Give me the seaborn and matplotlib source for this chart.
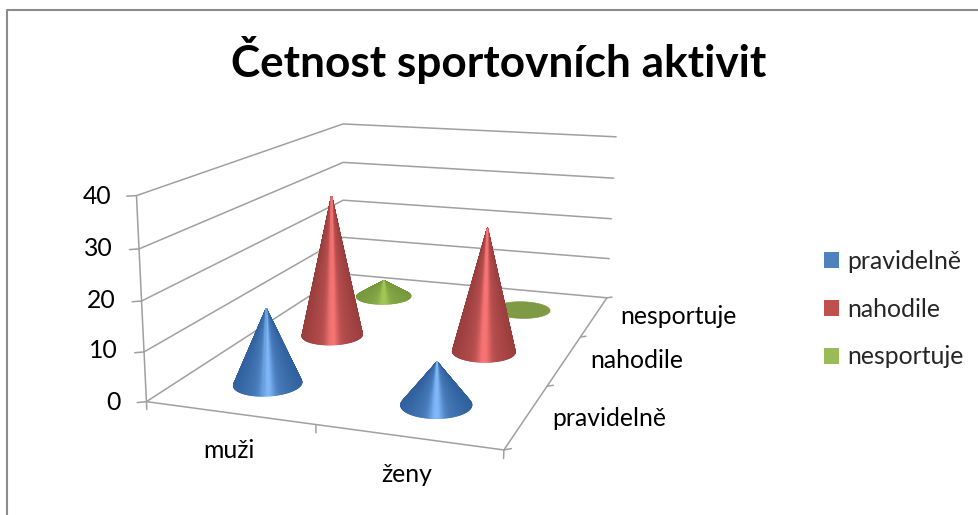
import numpy as np
import matplotlib
matplotlib.use('Agg')
import matplotlib.pyplot as plt
import seaborn as sns
from matplotlib.lines import Line2D
from matplotlib.patches import Patch
from mpl_toolkits.mplot3d.art3d import Poly3DCollection

title = 'Četnost sportovních aktivit'
genders = ['muži', 'ženy']
activity = ['pravidelně', 'nahodile', 'nesportuje']
muzi = [15.5, 31.5, 4]
zeny = [8.5, 27, 0]
z_ticks = [0, 10, 20, 30, 40]

W, H = 979, 515

# where the chart box corners sit in the picture: (x, y, z) -> (px, py)
anchors = [
    ((0, 0, 0), (146.7, 401.7)), ((2, 0, 0), (504, 450)),
    ((2, 3, 0), (606.7, 297.7)), ((0, 3, 0), (343.3, 274.3)),
    ((0, 0, 10), (143.7, 351.7)), ((0, 0, 20), (141.7, 300.7)),
    ((0, 0, 30), (139.3, 249)), ((0, 0, 40), (136, 196)),
    ((0, 3, 10), (343.3, 237.3)), ((0, 3, 20), (343.3, 200)),
    ((0, 3, 30), (343.3, 162.3)), ((0, 3, 40), (343.3, 124)),
    ((2, 3, 10), (609.3, 258.7)), ((2, 3, 20), (611.7, 218.7)),
    ((2, 3, 30), (614, 178.3)), ((2, 3, 40), (615.7, 136.7)),
]

# fit the camera, same thing excel's 3d view does
rows, rhs = [], []
for (x, y, z), (u, v) in anchors:
    rows.append([x, y, z, 1, 0, 0, 0, 0, -u * x, -u * y, -u * z])
    rhs.append(u)
    rows.append([0, 0, 0, 0, x, y, z, 1, -v * x, -v * y, -v * z])
    rhs.append(v)
p = np.linalg.lstsq(np.array(rows, float), np.array(rhs, float), rcond=None)[0]
P = np.append(p, 1).reshape(3, 4)


def to_px(x, y, z=0):
    q = P @ np.array([x, y, z, 1.0])
    return q[0] / q[2], q[1] / q[2]


sns.set_theme(style='white')
plt.rcParams['font.family'] = ['Lato', 'DejaVu Sans']
colors = sns.color_palette(['#4F81BD', '#C0504D', '#9BBB59'])
darks = [(0.19, 0.38, 0.62), (0.60, 0.24, 0.24), (0.47, 0.60, 0.24)]
lights = [(0.50, 0.72, 0.98), (0.98, 0.46, 0.46), (0.64, 0.78, 0.34)]

fig = plt.figure(figsize=(W / 100, H / 100), dpi=100, facecolor='white')
ax = fig.add_axes([0, -0.45, 1, 1.9], projection='3d', computed_zorder=False)
ax.set_axis_off()
ax.patch.set_visible(False)


def camera_proj():
    to_data = ax.transData.inverted().get_matrix()
    flip = np.array([[1, 0, 0], [0, -1, H], [0, 0, 1.0]])
    m = to_data @ flip @ P
    return np.array([m[0], m[1], [0, 0, 0, -1.0], m[2]])


ax.get_proj = camera_proj

grey = '#A0A0A0'


def line(xs, ys, zs):
    ax.plot(xs, ys, zs, color=grey, lw=1.1, zorder=1)


# walls and floor
for z in z_ticks:
    line([0, 0, 2], [0, 3, 3], [z, z, z])
    line([0, -0.04], [0, -0.03], [z, z])
line([0, 0], [0, 0], [0, 40])
line([0, 2, 2], [0, 0, 3], [0, 0, 0])
for x in range(3):
    line([x, x], [0, 0], [0, -1.6])
for y in range(4):
    line([2, 2.03], [y, y + 0.03], [0, 0])


def cone(cx, cy, value, i, order):
    rx, ry = 0.19, 0.21
    th = np.linspace(0, 2 * np.pi, 181)
    xr = cx + rx * np.cos(th)
    yr = cy + ry * np.sin(th)
    if value == 0:
        verts = [list(zip(xr, yr, np.zeros_like(xr)))]
        ax.add_collection3d(Poly3DCollection(verts, facecolor='#7F9A45', edgecolor='#7F9A45',
                                             linewidth=0.5, zorder=order))
        return
    # shade by horizontal place on screen, bright stripe in the middle
    px = np.array([to_px(a, b)[0] for a, b in zip(xr, yr)])
    mid = (px.max() + px.min()) / 2
    v = (px - mid) / ((px.max() - px.min()) / 2)
    v = (v[:-1] + v[1:]) / 2
    b = 0.42 * (1 - np.abs(v)) + 0.58 * np.exp(-(v / 0.2) ** 2)
    b = np.clip(b, 0, 1)[None, :, None]
    face = np.array(darks[i]) + b * (np.array(lights[i]) - np.array(darks[i]))
    face = np.concatenate([face, np.ones((1, len(th) - 1, 1))], axis=2)
    X = np.vstack([xr, np.full_like(xr, cx)])
    Y = np.vstack([yr, np.full_like(yr, cy)])
    Z = np.vstack([np.zeros_like(xr), np.full_like(xr, value)])
    ax.plot_surface(X, Y, Z, rstride=1, cstride=1, facecolors=face, shade=False,
                    linewidth=0.9, zorder=order)


# back row first so the near cones cover it
order = 2
for i in [2, 1, 0]:
    for j, vals in enumerate([muzi, zeny]):
        cone(j + 0.5, i + 0.5, vals[i], i, order)
        order += 1


def put(px, py, s, **kw):
    fig.text(px / W, 1 - py / H, s, va='center', color='black', **kw)


fs = 17.8
put(499, 60, title, ha='center', fontsize=31.8, fontweight='bold')
for z, rx_, py in zip(z_ticks, [120.7, 117.5, 116, 113, 111], [402, 350, 300, 249, 197]):
    put(rx_, py, str(z), ha='right', fontsize=fs)
put(229, 451, genders[0], ha='center', fontsize=fs)
put(407, 474, genders[1], ha='center', fontsize=fs)
put(552, 418, activity[0], ha='left', fontsize=fs)
put(590, 361, activity[1], ha='left', fontsize=fs)
put(620, 317, activity[2], ha='left', fontsize=fs)

handles = [Patch(facecolor=c, edgecolor='none') for c in colors]
fig.legend(handles, activity, loc='upper left', bbox_to_anchor=(814 / W, 1 - 240 / H), frameon=False,
           fontsize=fs, handlelength=15 / (fs * 100 / 72), handleheight=15 / (fs * 100 / 72),
           handletextpad=0.33, labelspacing=1.0, borderpad=0.4, borderaxespad=0)

# chart frame, only top and left land inside the picture
fig.add_artist(Line2D([7.5 / W, 7.5 / W, 1], [0, 1 - 10 / H, 1 - 10 / H], color='#8C8C8C', lw=1.5))

fig.savefig('out.png', dpi=100)
